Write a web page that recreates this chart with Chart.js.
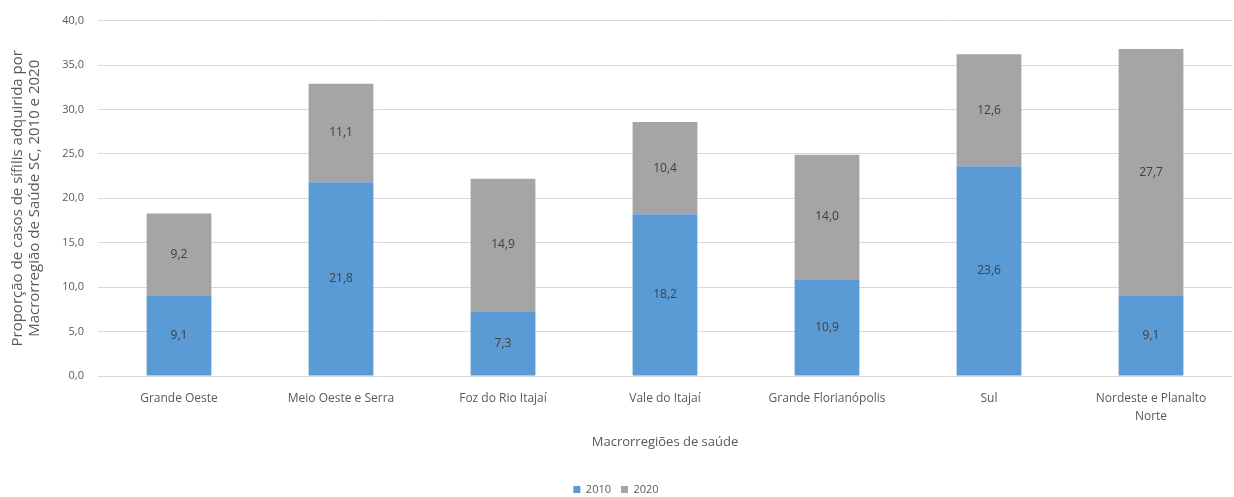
<!DOCTYPE html>
<html>
<head>
<meta charset="utf-8">
<script src="https://cdn.jsdelivr.net/npm/chart.js@4.4.1/dist/chart.umd.min.js"></script>
<style>
  html, body { margin: 0; padding: 0; background: #fff; }
  #wrap { width: 1234px; height: 497px; }
</style>
</head>
<body>
<div id="wrap"><canvas id="sifilisChart"></canvas></div>
<script>
// Categorias (macrorregiões) e valores por ano
const regioes = ['Grande Oeste', 'Meio Oeste e Serra', 'Foz do Rio Itajaí', 'Vale do Itajaí',
  'Grande Florianópolis', 'Sul', ['Nordeste e Planalto', 'Norte']];
const valores2010 = [9.1, 21.8, 7.3, 18.2, 10.9, 23.6, 9.1];
const valores2020 = [9.2, 11.1, 14.9, 10.4, 14.0, 12.6, 27.7];
const yTicks = [0, 5, 10, 15, 20, 25, 30, 35, 40];

const textColor = '#595959';
const fontFamily = "'Open Sans', 'Liberation Sans', sans-serif";

// Formata número com vírgula decimal (pt-BR)
function fmt(v) {
  return v.toFixed(1).replace('.', ',');
}

// Plugin simples para escrever o valor no centro de cada segmento
const rotulosPlugin = {
  id: 'rotulos',
  afterDatasetsDraw(chart) {
    const ctx = chart.ctx;
    ctx.save();
    ctx.font = '12px ' + fontFamily;
    ctx.fillStyle = '#404040';
    ctx.textAlign = 'center';
    ctx.textBaseline = 'middle';
    chart.data.datasets.forEach((ds, i) => {
      chart.getDatasetMeta(i).data.forEach((bar, j) => {
        const p = bar.getCenterPoint();
        ctx.fillText(fmt(ds.data[j]), p.x, p.y);
      });
    });
    ctx.restore();
  }
};

const ctx = document.getElementById('sifilisChart').getContext('2d');
new Chart(ctx, {
  type: 'bar',
  data: {
    labels: regioes,
    datasets: [
      { label: '2010', data: valores2010, backgroundColor: '#5b9bd5', barPercentage: 0.4, categoryPercentage: 1 },
      { label: '2020', data: valores2020, backgroundColor: '#a5a5a5', barPercentage: 0.4, categoryPercentage: 1 }
    ]
  },
  options: {
    responsive: true,
    maintainAspectRatio: false,
    animation: false,
    layout: { padding: { top: 13, right: 2, left: 0, bottom: -8 } },
    plugins: {
      legend: {
        position: 'bottom',
        labels: {
          boxWidth: 7,
          boxHeight: 7,
          padding: 10,
          color: textColor,
          font: { family: fontFamily, size: 11 }
        }
      },
      tooltip: { enabled: false }
    },
    scales: {
      x: {
        stacked: true,
        afterFit(scale) {
          scale.height = 98;
        },
        grid: { display: false },
        border: { display: false },
        ticks: {
          color: textColor,
          padding: 5,
          maxRotation: 0,
          autoSkip: false,
          font: { family: fontFamily, size: 12, lineHeight: 1.55 }
        },
        title: {
          display: true,
          text: 'Macrorregiões de saúde',
          color: textColor,
          padding: { top: 0, bottom: 24 },
          font: { family: fontFamily, size: 13 }
        }
      },
      y: {
        stacked: true,
        min: 0,
        max: 40,
        afterBuildTicks(scale) {
          scale.ticks = yTicks.map(v => ({ value: v }));
        },
        afterFit(scale) {
          scale.width = 98;
        },
        grid: { color: '#d9d9d9', drawTicks: false },
        border: { display: false },
        ticks: {
          color: textColor,
          padding: 14,
          font: { family: fontFamily, size: 11 },
          callback: v => fmt(v)
        },
        title: {
          display: true,
          text: ['Proporção de casos de sífilis adquirida por', 'Macrorregião de Saúde SC, 2010 e 2020'],
          color: textColor,
          padding: { top: 9, bottom: 8 },
          font: { family: fontFamily, size: 15, lineHeight: 1.13 }
        }
      }
    }
  },
  plugins: [rotulosPlugin]
});
</script>
</body>
</html>
